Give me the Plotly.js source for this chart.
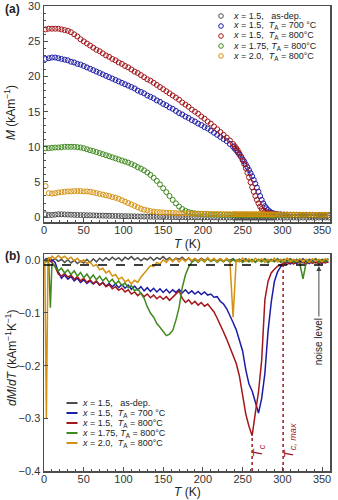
<!DOCTYPE html>
<html>
<head>
<meta charset="utf-8">
<script src="https://cdn.plot.ly/plotly-3.0.1.min.js"></script>
<style>
  body { margin: 0; background: #fff; }
  #graph { width: 338px; height: 500px; }
</style>
</head>
<body>
<div id="graph"></div>
<script>
////////////////////////////// Data: magnetisation M(T) //////////////////////////////
var tempM = [2,6,10,14,18,22,26,30,34,38,42,46,50,54,58,62,66,70,74,78,82,86,90,94,98,102,106,110,114,118,
  122,126,130,134,138,142,146,150,154,158,162,166,170,174,178,182,186,190,194,198,202,206,210,214,218,222,226,230,234,238,
  240,242,244,246,248,250,252,254,256,258,260,262,264,266,268,270,272,274,276,278,280,282,284,286,288,290,
  294,298,302,306,310,314,318,322,326,330,334,338,342,346,350,354,358];

var mAsDep = [0.4,0.3,0.3,0.35,0.4,0.4,0.38,0.36,0.34,0.32, 0.3,0.29,0.27,0.26,0.25,0.24,0.22,0.21,0.2,0.19,
  0.18,0.17,0.16,0.15,0.14,0.13,0.12,0.11,0.1,0.09, 0.08,0.07,0.06,0.05,0.05,0.04,0.03,0.02,0.02,0.01,
  0.0,0.0,-0.01,-0.01,-0.02,-0.02,-0.03,-0.03,-0.04,-0.04, -0.04,-0.05,-0.05,-0.05,-0.05,-0.06,-0.06,-0.06,-0.06,-0.06,
  -0.06,-0.06,-0.07,-0.06,-0.06,-0.07,-0.06,-0.06,-0.07,-0.06, -0.06,-0.07,-0.06,-0.06,-0.07,-0.06,-0.06,-0.07,-0.06,-0.06,
  -0.07,-0.06,-0.06,-0.07,-0.06,-0.06,
  -0.07,-0.06,-0.07,-0.07,-0.06,-0.07,-0.07,-0.06,-0.07,-0.07, -0.06,-0.07,-0.07,-0.06,-0.07,-0.07,-0.06];

var m700 = [22.5,22.6,22.7,22.7,22.6,22.5,22.4,22.3,22.1,22.0, 21.8,21.7,21.5,21.3,21.1,20.9,20.7,20.5,20.3,20.1,
  19.9,19.7,19.5,19.3,19.1,18.9,18.7,18.5,18.3,18.0, 17.8,17.6,17.3,17.1,16.9,16.6,16.4,16.1,15.9,15.6,
  15.4,15.1,14.8,14.6,14.3,14.1,13.8,13.6,13.3,13.1, 12.8,12.6,12.3,12.0,11.7,11.4,11.1,10.8,10.4,10.0,
  9.75,9.5,9.2,8.9,8.6,8.25,7.9,7.5,7.1,6.7, 6.25,5.8,5.3,4.75,4.2,3.6,3.0,2.45,1.95,1.55,
  1.25,1.0,0.8,0.65,0.55,0.48,
  0.42,0.38,0.35,0.33,0.31,0.3,0.29,0.28,0.27,0.27, 0.26,0.26,0.25,0.25,0.25,0.24,0.24];

var m800 = [26.7,26.8,26.8,26.8,26.8,26.7,26.6,26.5,26.3,26.0, 25.7,25.3,25.0,24.7,24.4,24.1,23.8,23.6,23.3,23.0,
  22.8,22.5,22.3,22.0,21.8,21.5,21.3,21.0,20.7,20.5, 20.2,19.9,19.6,19.4,19.1,18.8,18.5,18.2,17.9,17.6,
  17.3,17.0,16.7,16.3,16.0,15.7,15.3,15.0,14.7,14.3, 14.0,13.6,13.3,12.9,12.5,12.1,11.7,11.3,10.9,10.4,
  10.1,9.8,9.45,9.05,8.6,8.1,7.55,6.95,6.3,5.65, 4.95,4.25,3.6,3.0,2.45,1.95,1.5,1.15,0.9,0.75,
  0.65,0.57,0.5,0.45,0.42,0.4,
  0.37,0.34,0.32,0.3,0.29,0.28,0.27,0.27,0.26,0.26, 0.25,0.25,0.25,0.24,0.24,0.24,0.24];

var m175 = [9.8,9.8,9.85,9.9,9.9,9.95,10.0,10.0,10.0,10.0, 9.95,9.9,9.8,9.65,9.5,9.4,9.25,9.1,8.95,8.8,
  8.65,8.5,8.35,8.2,8.05,7.9,7.75,7.55,7.35,7.1, 6.9,6.65,6.35,6.0,5.6,5.15,4.65,4.1,3.55,3.0,
  2.45,1.95,1.5,1.15,0.9,0.72,0.6,0.52,0.47,0.43, 0.4,0.38,0.36,0.35,0.34,0.33,0.32,0.32,0.31,0.31,
  0.31,0.31,0.3,0.3,0.3,0.3,0.3,0.3,0.3,0.3, 0.3,0.3,0.3,0.3,0.3,0.3,0.3,0.3,0.3,0.3,
  0.3,0.3,0.29,0.29,0.29,0.29,
  0.29,0.29,0.29,0.29,0.29,0.28,0.28,0.28,0.28,0.28, 0.28,0.28,0.28,0.28,0.28,0.28,0.28];

var m20 = [4.4,3.4,3.35,3.4,3.5,3.55,3.6,3.65,3.65,3.7, 3.7,3.7,3.65,3.65,3.6,3.5,3.4,3.3,3.2,3.1,
  3.0,2.85,2.75,2.6,2.4,2.2,2.0,1.8,1.6,1.4, 1.2,1.05,0.95,0.85,0.78,0.72,0.68,0.65,0.62,0.6,
  0.58,0.56,0.54,0.53,0.52,0.51,0.5,0.49,0.48,0.47, 0.46,0.45,0.45,0.44,0.43,0.43,0.42,0.42,0.41,0.41,
  0.41,0.4,0.4,0.4,0.4,0.4,0.4,0.4,0.4,0.39, 0.39,0.39,0.39,0.39,0.39,0.39,0.39,0.39,0.38,0.38,
  0.38,0.38,0.38,0.38,0.38,0.38,
  0.37,0.37,0.37,0.36,0.36,0.36,0.35,0.35,0.35,0.35, 0.34,0.34,0.34,0.34,0.33,0.33,0.33];

////////////////////////////// Data: derivative dM/dT //////////////////////////////
var tempD = [1,2,3,4,5,6,8,10,14,18,22,26,30,34,38,42,46,50,54,58,62,66,70,74,78,82,86,90,94,98,102,106,110,114,118,
  122,126,130,134,138,142,146,150,154,158,162,166,170,174,178,182,186,190,194,198,202,206,210,214,218,222,226,230,234,238,
  242,246,250,254,258,262,266,270,274,278,282,286,290,294,298,302,306,310,314,318,322,326,330,334,338,342,346,350,354,358];

var dAsDep = [0.003,0.001,0.004,0.000,0.003,0.001,0.004,-0.001,
  0.003,-0.002,0.002,-0.004,0.001,-0.005,0.000,-0.006,-0.001,-0.005,
  0.002,-0.004,0.003,-0.003,0.004,-0.001,0.005,0.000,0.006,0.001,
  0.005,-0.001,0.006,0.002,0.007,0.001,0.005,-0.001,0.004,0.001,
  0.006,0.000,0.005,0.002,0.007,0.001,0.005,-0.001,0.004,0.002,
  0.006,0.000,0.004,-0.002,0.003,-0.001,0.004,0.000,0.003,-0.002,
  0.002,-0.001,0.003,-0.002,0.002,0.000,0.003,-0.002,0.002,-0.001,
  0.003,-0.002,0.001,-0.003,0.002,-0.001,0.003,-0.002,0.002,-0.001,
  0.003,-0.002,0.002,0.000,0.003,-0.002,0.002,-0.001,0.003,-0.002,
  0.002,0.000,0.003,-0.002,0.002,0.000,0.003];

var d700 = [-0.004,0.002,-0.002,0.003,-0.001,0.002,-0.002,0.001,
  -0.004,-0.022,-0.034,-0.028,-0.036,-0.031,-0.039,-0.034,-0.042,-0.037,
  -0.044,-0.039,-0.045,-0.04,-0.047,-0.042,-0.049,-0.044,-0.05,-0.045,
  -0.052,-0.046,-0.053,-0.047,-0.055,-0.049,-0.056,-0.05,-0.058,-0.052,
  -0.059,-0.053,-0.06,-0.054,-0.061,-0.055,-0.062,-0.056,-0.061,-0.055,
  -0.062,-0.056,-0.063,-0.058,-0.064,-0.059,-0.065,-0.06,-0.066,-0.064,
  -0.07,-0.069,-0.078,-0.083,-0.092,-0.104,-0.118,-0.132,-0.15,-0.172,
  -0.208,-0.235,-0.248,-0.268,-0.29,-0.262,-0.215,-0.135,-0.08,-0.04,
  -0.022,-0.012,-0.008,-0.003,-0.007,-0.002,-0.006,-0.001,-0.005,-0.002,
  -0.006,-0.001,-0.005,-0.002,-0.006,-0.001,-0.004];

var d800 = [0.002,-0.003,0.001,-0.002,0.003,-0.001,0.002,-0.004,
  -0.012,-0.026,-0.03,-0.025,-0.032,-0.028,-0.036,-0.031,-0.039,-0.034,
  -0.042,-0.037,-0.044,-0.039,-0.047,-0.042,-0.05,-0.046,-0.054,-0.05,
  -0.057,-0.053,-0.06,-0.056,-0.064,-0.06,-0.067,-0.062,-0.069,-0.064,
  -0.071,-0.066,-0.073,-0.068,-0.074,-0.069,-0.076,-0.07,-0.064,-0.058,
  -0.072,-0.08,-0.075,-0.083,-0.078,-0.085,-0.08,-0.087,-0.083,-0.091,
  -0.098,-0.11,-0.122,-0.136,-0.15,-0.165,-0.18,-0.196,-0.22,-0.255,
  -0.292,-0.315,-0.333,-0.29,-0.25,-0.19,-0.075,-0.04,-0.024,-0.017,
  -0.011,-0.009,-0.004,-0.008,-0.003,-0.007,-0.002,-0.006,-0.003,-0.007,
  -0.002,-0.006,-0.003,-0.007,-0.002,-0.005,-0.003];

var d175 = [0.0,-0.002,0.001,-0.003,-0.002,-0.005,-0.09,-0.006,
  -0.012,-0.02,-0.015,-0.024,-0.018,-0.027,-0.02,-0.03,-0.023,-0.033,
  -0.026,-0.035,-0.028,-0.037,-0.03,-0.039,-0.033,-0.042,-0.036,-0.045,
  -0.039,-0.048,-0.043,-0.052,-0.048,-0.058,-0.054,-0.064,-0.072,-0.088,
  -0.1,-0.108,-0.12,-0.127,-0.136,-0.143,-0.14,-0.133,-0.114,-0.09,
  -0.052,-0.028,-0.013,-0.004,0.001,-0.004,0.002,-0.003,0.003,-0.002,
  0.002,-0.004,0.001,-0.003,0.002,-0.004,0.001,-0.003,0.002,-0.004,
  0.001,-0.003,0.002,-0.004,0.001,-0.003,0.002,-0.005,0.001,-0.003,
  0.002,-0.004,0.001,-0.003,0.002,-0.004,0.0,-0.006,-0.035,-0.004,
  0.001,-0.003,0.002,-0.004,0.001,-0.003,0.002];

var d20 = [0.0,-0.15,-0.3,-0.15,0.0,0.006,0.002,0.008,
  0.003,0.009,0.004,0.008,0.002,0.006,-0.001,0.004,-0.003,0.001,
  -0.006,-0.003,-0.011,-0.008,-0.018,-0.015,-0.024,-0.02,-0.03,-0.027,
  -0.036,-0.032,-0.041,-0.037,-0.045,-0.038,-0.042,-0.032,-0.024,-0.018,
  -0.01,-0.012,-0.004,-0.007,0.001,-0.004,0.003,-0.002,0.004,-0.003,
  0.003,-0.002,0.005,-0.001,0.004,-0.003,0.003,-0.002,0.005,-0.001,
  0.004,-0.003,0.003,-0.002,0.004,-0.002,-0.108,0.002,-0.003,0.004,
  -0.002,0.003,-0.003,0.004,-0.001,0.003,-0.004,0.002,-0.002,0.004,
  -0.003,0.002,-0.002,0.004,-0.003,0.002,-0.002,0.003,-0.003,0.002,
  -0.004,0.003,-0.002,0.002,-0.003,0.003,0.0];

var sampleLabels = [
  '<i>x</i> = 1.5,\u00a0\u00a0\u00a0as-dep.',
  '<i>x</i> = 1.5,\u00a0\u00a0<i>T</i><sub>A</sub> = 700\u00a0°C',
  '<i>x</i> = 1.5,\u00a0\u00a0<i>T</i><sub>A</sub> = 800°C',
  '<i>x</i> = 1.75, <i>T</i><sub>A</sub> = 800°C',
  '<i>x</i> = 2.0,\u00a0\u00a0<i>T</i><sub>A</sub> = 800°C'
];
var colors = ['#4d4d4d', '#1c1ca6', '#a3161a', '#3e8a1e', '#d4900e'];
var mSeries = [mAsDep, m700, m800, m175, m20];
var dSeries = [dAsDep, d700, d800, d175, d20];

var noiseLevel = -0.009;
var tc = 262, tcMax = 301;

////////////////////////////// Layout helpers //////////////////////////////
var W = 338, H = 500, ML = 44, MR = 8, MT = 6, MB = 29;
var font = 'Liberation Sans, Arial, sans-serif';
function paperX(px) { return (px - ML) / (W - ML - MR); }
function paperY(py) { return 1 - (py - MT) / (H - MT - MB); }

var traces = [];
for (var i = 0; i < mSeries.length; i++) {
  traces.push({
    x: tempM, y: mSeries[i], xaxis: 'x', yaxis: 'y',
    mode: 'markers', type: 'scatter', showlegend: false,
    marker: {symbol: 'circle-open', size: 5, color: colors[i], line: {width: 1, color: colors[i]}}
  });
}
for (var i = 0; i < dSeries.length; i++) {
  traces.push({
    x: tempD, y: dSeries[i], xaxis: 'x2', yaxis: 'y2',
    mode: 'lines', type: 'scatter', showlegend: false,
    line: {color: colors[i], width: 1.5}
  });
}

function axisStyle(extra) {
  return Object.assign({
    showline: true, linecolor: '#4d4d4d', linewidth: 1.5, mirror: true,
    ticks: 'inside', ticklen: 4, tickwidth: 1, tickcolor: '#4d4d4d',
    showgrid: false, zeroline: false, fixedrange: true, ticklabeloverflow: 'allow',
    tickfont: {family: font, size: 11, color: '#333'}
  }, extra);
}
var xMinor = {ticks: 'inside', ticklen: 2, dtick: 10, tickcolor: '#4d4d4d', showgrid: false};

var annotations = [];
var shapes = [];
function note(text, px, py, opts) {
  annotations.push(Object.assign({
    text: text, xref: 'paper', yref: 'paper', x: paperX(px), y: paperY(py),
    showarrow: false, xanchor: 'center', yanchor: 'middle',
    font: {family: font, size: 12, color: '#222'}
  }, opts || {}));
}

note('<b>(a)</b>', 3, 9, {xanchor: 'left'});
note('<b>(b)</b>', 3, 256, {xanchor: 'left'});
note('<i>M</i> (kAm<sup>\u22121</sup>)', 10, 113, {textangle: -90});
note('<i>dM</i>/<i>dT</i> (kAm<sup>\u22121</sup>K<sup>\u22121</sup>)', 11, 358, {textangle: -90});
note('<i>T</i> (K)', 187, 244);
note('<i>T</i> (K)', 187, 492);

// legends drawn as annotations for tight row spacing
for (var i = 0; i < sampleLabels.length; i++) {
  var ty = 16 + 10 * i;
  note(sampleLabels[i], 231, ty, {xanchor: 'left', font: {family: font, size: 9, color: '#222'}});
  shapes.push({type: 'circle', xref: 'paper', yref: 'paper', xsizemode: 'pixel', ysizemode: 'pixel',
    xanchor: paperX(221), yanchor: paperY(ty), x0: -2.3, x1: 2.3, y0: -2.3, y1: 2.3,
    line: {color: colors[i], width: 1}});
  var by = 403 + 10 * i;
  note(sampleLabels[i], 80, by, {xanchor: 'left', font: {family: font, size: 9, color: '#222'}});
  shapes.push({type: 'line', xref: 'paper', yref: 'paper', xsizemode: 'pixel', ysizemode: 'pixel',
    xanchor: paperX(72), yanchor: paperY(by), x0: -5.5, x1: 5.5, y0: 0, y1: 0,
    line: {color: colors[i], width: 2}});
}

// noise level line and arrow
shapes.push({type: 'line', xref: 'x2', yref: 'y2', x0: 0, x1: 360, y0: noiseLevel, y1: noiseLevel,
  line: {color: '#000', width: 1.5, dash: 'dash'}});
annotations.push({text: 'noise level', xref: 'x2', yref: 'y2', x: 346, y: noiseLevel - 0.002,
  axref: 'x2', ayref: 'y2', ax: 346, ay: -0.154, textangle: -90, showarrow: true,
  arrowhead: 2, arrowsize: 1, arrowwidth: 1, arrowcolor: '#444',
  font: {family: font, size: 10, color: '#222'}});

// Curie temperature markers
var tcMin = Math.min.apply(null, d800);
shapes.push({type: 'line', xref: 'x2', yref: 'y2', x0: tc, x1: tc, y0: -0.4, y1: tcMin,
  line: {color: colors[2], width: 1.5, dash: 'dot'}});
shapes.push({type: 'line', xref: 'x2', yref: 'y2', x0: tcMax, x1: tcMax, y0: -0.4, y1: noiseLevel + 0.004,
  line: {color: colors[2], width: 1.5, dash: 'dot'}});
annotations.push({text: '<i>T</i><sub><i>c</i></sub>', xref: 'x2', yref: 'y2', x: tc + 9, y: -0.362,
  showarrow: false, textangle: -90, font: {family: font, size: 13, color: colors[2]}});
annotations.push({text: '<i>T</i><sub><i>c, max</i></sub>', xref: 'x2', yref: 'y2', x: tcMax + 9, y: -0.343,
  showarrow: false, textangle: -90, font: {family: font, size: 13, color: colors[2]}});

var layout = {
  width: W, height: H,
  margin: {l: ML, r: MR, t: MT, b: MB},
  paper_bgcolor: '#fff', plot_bgcolor: '#fff',
  font: {family: font, color: '#222'},
  xaxis: axisStyle({anchor: 'y', range: [0, 360], tick0: 0, dtick: 50, minor: xMinor, ticklabelstandoff: -3}),
  yaxis: axisStyle({anchor: 'x', domain: [paperY(222), 1], range: [-0.7, 30.03], tick0: 0, dtick: 5,
    minor: {ticks: 'inside', ticklen: 2, dtick: 1, tickcolor: '#4d4d4d', showgrid: false}}),
  xaxis2: axisStyle({anchor: 'y2', range: [0, 360], tick0: 0, dtick: 50, minor: xMinor, ticklabelstandoff: -3}),
  yaxis2: axisStyle({anchor: 'x2', domain: [0, paperY(254)], range: [-0.4, 0.012], tick0: 0, dtick: 0.1, tickformat: '.1f'}),
  annotations: annotations,
  shapes: shapes
};

Plotly.newPlot('graph', traces, layout, {displayModeBar: false, staticPlot: true});
</script>
</body>
</html>
